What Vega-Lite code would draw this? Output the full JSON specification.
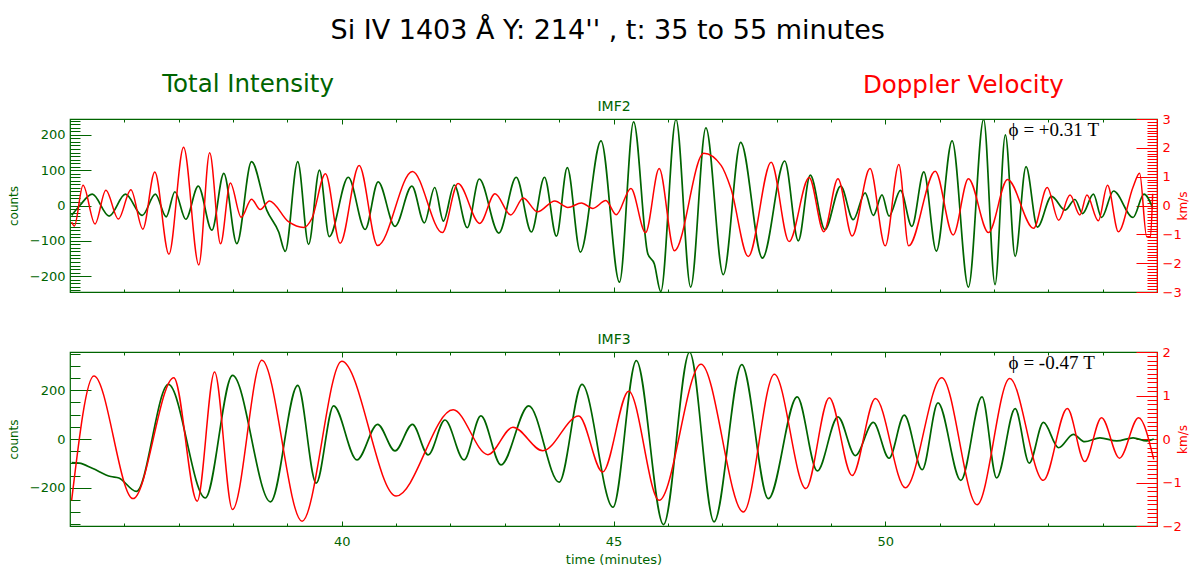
{
  "$schema": "https://vega.github.io/schema/vega-lite/v6.json",
  "background": "white",
  "padding": {"left": 6, "right": 4, "top": 17, "bottom": 0},
  "datasets": {
    "imf2_int": [
      {"t":35.03,"v":-28},{"t":35.18,"v":0},{"t":35.41,"v":32},{"t":35.72,"v":-30},{"t":36.02,"v":32},{"t":36.33,"v":-28},{"t":36.57,"v":32},{"t":36.77,"v":-32},{"t":36.93,"v":39},{"t":37.13,"v":-39},{"t":37.36,"v":55},{"t":37.61,"v":-70},{"t":37.83,"v":91},{"t":38.07,"v":-108},{"t":38.34,"v":124},{"t":38.62,"v":-13},{"t":38.84,"v":-75},{"t":38.96,"v":-130},{"t":39.19,"v":124},{"t":39.39,"v":-110},{"t":39.59,"v":100},{"t":39.77,"v":-88},{"t":40.12,"v":80},{"t":40.43,"v":-68},{"t":40.67,"v":67},{"t":40.98,"v":-59},{"t":41.29,"v":55},{"t":41.52,"v":-49},{"t":41.71,"v":51},{"t":41.87,"v":-44},{"t":42.07,"v":58},{"t":42.31,"v":-63},{"t":42.53,"v":75},{"t":42.89,"v":-78},{"t":43.21,"v":80},{"t":43.49,"v":-75},{"t":43.73,"v":80},{"t":43.95,"v":-87},{"t":44.15,"v":107},{"t":44.39,"v":-132},{"t":44.77,"v":183},{"t":45.11,"v":-217},{"t":45.37,"v":237},{"t":45.63,"v":-136},{"t":45.75,"v":-165},{"t":45.87,"v":-244},{"t":46.15,"v":244},{"t":46.42,"v":-231},{"t":46.70,"v":220},{"t":47.02,"v":-196},{"t":47.34,"v":179},{"t":47.74,"v":-149},{"t":48.15,"v":126},{"t":48.40,"v":-100},{"t":48.62,"v":86},{"t":48.89,"v":-68},{"t":49.18,"v":55},{"t":49.41,"v":-40},{"t":49.63,"v":36},{"t":49.78,"v":-28},{"t":49.94,"v":30},{"t":50.07,"v":-30},{"t":50.28,"v":43},{"t":50.49,"v":-59},{"t":50.71,"v":95},{"t":50.94,"v":-129},{"t":51.23,"v":183},{"t":51.53,"v":-231},{"t":51.81,"v":244},{"t":52.02,"v":-224},{"t":52.21,"v":200},{"t":52.39,"v":-144},{"t":52.59,"v":110},{"t":52.80,"v":-61},{"t":53.06,"v":26},{"t":53.31,"v":-13},{"t":53.49,"v":17},{"t":53.63,"v":-23},{"t":53.83,"v":32},{"t":53.98,"v":-34},{"t":54.20,"v":41},{"t":54.56,"v":-34},{"t":54.76,"v":32},{"t":54.92,"v":-6}
    ],
    "imf2_vel": [
      {"t":35.03,"v":-0.57},{"t":35.08,"v":-0.71},{"t":35.24,"v":0.70},{"t":35.46,"v":-0.64},{"t":35.66,"v":0.53},{"t":35.89,"v":-0.47},{"t":36.12,"v":0.55},{"t":36.34,"v":-0.82},{"t":36.56,"v":1.16},{"t":36.82,"v":-1.69},{"t":37.09,"v":2.02},{"t":37.37,"v":-2.06},{"t":37.57,"v":1.83},{"t":37.77,"v":-1.33},{"t":37.95,"v":0.78},{"t":38.15,"v":-0.41},{"t":38.34,"v":0.22},{"t":38.50,"v":-0.14},{"t":38.67,"v":0.16},{"t":39.02,"v":-0.56},{"t":39.30,"v":-0.76},{"t":39.45,"v":-0.45},{"t":39.70,"v":1.10},{"t":39.97,"v":-1.31},{"t":40.32,"v":1.39},{"t":40.66,"v":-1.39},{"t":41.30,"v":1.18},{"t":41.85,"v":-0.94},{"t":42.14,"v":0.76},{"t":42.54,"v":-0.62},{"t":42.82,"v":0.41},{"t":43.11,"v":-0.33},{"t":43.34,"v":0.26},{"t":43.60,"v":-0.22},{"t":43.92,"v":0.16},{"t":44.16,"v":-0.07},{"t":44.41,"v":0.09},{"t":44.62,"v":-0.10},{"t":44.86,"v":0.17},{"t":45.05,"v":-0.32},{"t":45.32,"v":0.59},{"t":45.59,"v":-0.94},{"t":45.84,"v":1.28},{"t":46.12,"v":-1.57},{"t":46.66,"v":1.81},{"t":46.98,"v":1.39},{"t":47.16,"v":0.59},{"t":47.48,"v":-1.77},{"t":47.90,"v":1.50},{"t":48.23,"v":-1.25},{"t":48.60,"v":0.97},{"t":48.87,"v":-0.91},{"t":49.13,"v":0.93},{"t":49.39,"v":-1.06},{"t":49.72,"v":1.28},{"t":50.00,"v":-1.40},{"t":50.25,"v":1.42},{"t":50.43,"v":-1.40},{"t":50.92,"v":1.19},{"t":51.25,"v":-1.02},{"t":51.53,"v":0.93},{"t":51.90,"v":-0.94},{"t":52.25,"v":0.90},{"t":52.73,"v":-0.79},{"t":52.98,"v":0.62},{"t":53.19,"v":-0.51},{"t":53.40,"v":0.36},{"t":53.58,"v":-0.33},{"t":53.71,"v":0.36},{"t":53.92,"v":-0.53},{"t":54.09,"v":0.70},{"t":54.29,"v":-0.91},{"t":54.56,"v":0.64},{"t":54.68,"v":1.12},{"t":54.81,"v":-1.08},{"t":54.88,"v":-1.08},{"t":54.92,"v":0.41}
    ],
    "imf3_int": [
      {"t":35.03,"v":-97},{"t":35.17,"v":-99},{"t":35.41,"v":-120},{"t":35.75,"v":-154},{"t":35.90,"v":-160},{"t":36.22,"v":-215},{"t":36.81,"v":224},{"t":37.49,"v":-242},{"t":37.99,"v":261},{"t":38.69,"v":-258},{"t":39.19,"v":220},{"t":39.53,"v":-181},{"t":39.85,"v":136},{"t":40.28,"v":-86},{"t":40.66,"v":60},{"t":40.98,"v":-49},{"t":41.30,"v":60},{"t":41.59,"v":-65},{"t":41.90,"v":78},{"t":42.25,"v":-86},{"t":42.56,"v":95},{"t":42.93,"v":-106},{"t":43.44,"v":136},{"t":44.00,"v":-177},{"t":44.42,"v":224},{"t":44.99,"v":-280},{"t":45.42,"v":322},{"t":45.92,"v":-351},{"t":46.40,"v":356},{"t":46.85,"v":-340},{"t":47.36,"v":305},{"t":47.85,"v":-245},{"t":48.38,"v":173},{"t":48.75,"v":-131},{"t":49.13,"v":91},{"t":49.45,"v":-68},{"t":49.78,"v":68},{"t":50.07,"v":-79},{"t":50.35,"v":98},{"t":50.68,"v":-126},{"t":50.97,"v":148},{"t":51.39,"v":-170},{"t":51.78,"v":173},{"t":52.05,"v":-160},{"t":52.39,"v":125},{"t":52.65,"v":-99},{"t":52.91,"v":68},{"t":53.19,"v":-36},{"t":53.46,"v":19},{"t":53.67,"v":-11},{"t":53.95,"v":5},{"t":54.26,"v":-8},{"t":54.56,"v":5},{"t":54.81,"v":-8},{"t":54.94,"v":0}
    ],
    "imf3_vel": [
      {"t":35.03,"v":-1.41},{"t":35.44,"v":1.45},{"t":36.16,"v":-1.37},{"t":36.91,"v":1.41},{"t":37.34,"v":-1.43},{"t":37.66,"v":1.54},{"t":37.99,"v":-1.62},{"t":38.53,"v":1.81},{"t":39.27,"v":-1.89},{"t":40.00,"v":1.79},{"t":41.00,"v":-1.31},{"t":42.05,"v":0.67},{"t":42.69,"v":-0.36},{"t":43.15,"v":0.27},{"t":43.70,"v":-0.27},{"t":44.36,"v":0.53},{"t":44.80,"v":-0.76},{"t":45.28,"v":1.10},{"t":45.84,"v":-1.41},{"t":46.61,"v":1.72},{"t":47.39,"v":-1.68},{"t":47.96,"v":1.49},{"t":48.54,"v":-1.14},{"t":48.97,"v":0.95},{"t":49.39,"v":-0.84},{"t":49.82,"v":0.93},{"t":50.37,"v":-1.12},{"t":51.04,"v":1.41},{"t":51.69,"v":-1.51},{"t":52.29,"v":1.39},{"t":52.91,"v":-0.95},{"t":53.35,"v":0.70},{"t":53.67,"v":-0.52},{"t":53.98,"v":0.49},{"t":54.31,"v":-0.44},{"t":54.66,"v":0.49},{"t":54.94,"v":-0.47}
    ]
  },
  "config": {
    "view": {"stroke": "#006400", "strokeWidth": 1.2},
    "font": "DejaVu Sans",
    "title": {"fontWeight": "normal", "font": "DejaVu Sans"},
    "axis": {"grid": false, "domain": false, "labelFont": "DejaVu Sans", "titleFont": "DejaVu Sans", "titleFontWeight": "normal", "labelOverlap": false, "labelFlush": false, "labelBound": false, "tickWidth": 1}
  },
  "title": {"text": "Si IV 1403 Å Y: 214'' , t: 35 to 55 minutes", "fontSize": 27, "color": "black", "anchor": "middle", "offset": 26, "dx": 10},
  "spacing": 31,
  "vconcat": [
    {
      "title": {"text": "Doppler Velocity", "anchor": "end", "color": "#ff0000", "fontSize": 24.5, "dx": -125, "offset": -27},
      "vconcat": [
        {
          "title": {"text": "Total Intensity", "anchor": "start", "color": "#006400", "fontSize": 24.5, "dx": 155, "offset": 2},
          "width": 1087,
          "height": 173,
          "layer": [
            {
              "data": {"name": "imf2_int"},
              "mark": {"type": "line", "color": "#006400", "strokeWidth": 1.7, "interpolate": "monotone", "clip": true},
              "encoding": {
                "x": {"field": "t", "type": "quantitative", "scale": {"domain": [35, 55], "nice": false, "zero": false},
                  "axis": {"orient": "bottom", "values": [36,37,38,39,40,41,42,43,44,45,46,47,48,49,50,51,52,53,54], "labels": false, "tickColor": "#006400", "title": null,
                    "tickSize": {"condition": {"test": "datum.value % 5 === 0", "value": -5}, "value": -3}}},
                "y": {"field": "v", "type": "quantitative", "scale": {"domain": [-245, 245], "nice": false, "zero": false},
                  "axis": {"orient": "left", "title": "counts", "titleColor": "#006400", "titleFontSize": 12, "titlePadding": 9,
                    "values": [-240,-230,-220,-210,-200,-190,-180,-170,-160,-150,-140,-130,-120,-110,-100,-90,-80,-70,-60,-50,-40,-30,-20,-10,0,10,20,30,40,50,60,70,80,90,100,110,120,130,140,150,160,170,180,190,200,210,220,230,240],
                    "labelExpr": "abs(datum.value / 100 - round(datum.value / 100)) < 0.01 ? format(datum.value, 'd') : ''",
                    "labelColor": "#006400", "labelFontSize": 13, "labelPadding": 26,
                    "tickColor": "#006400",
                    "tickSize": {"condition": {"test": "abs(datum.value / 100 - round(datum.value / 100)) < 0.01", "value": -21}, "value": -10}}}
              }
            },
            {
              "data": {"name": "imf2_vel"},
              "mark": {"type": "line", "color": "#ff0000", "strokeWidth": 1.5, "interpolate": "monotone", "clip": true},
              "encoding": {
                "x": {"field": "t", "type": "quantitative", "scale": {"domain": [35, 55], "nice": false, "zero": false},
                  "axis": {"orient": "top", "values": [36,37,38,39,40,41,42,43,44,45,46,47,48,49,50,51,52,53,54], "labels": false, "tickColor": "#006400", "title": "IMF2", "titleColor": "#006400", "titleFontSize": 14, "titlePadding": 5,
                    "tickSize": {"condition": {"test": "datum.value % 5 === 0", "value": -5}, "value": -3}}},
                "y": {"field": "v", "type": "quantitative", "scale": {"domain": [-3, 3], "nice": false, "zero": false},
                  "axis": {"orient": "right", "title": "km/s", "titleColor": "#ff0000", "titleFontSize": 12, "titleAngle": 270, "titlePadding": 8,
                    "values": [-3,-2.9,-2.8,-2.7,-2.6,-2.5,-2.4,-2.3,-2.2,-2.1,-2,-1.9,-1.8,-1.7,-1.6,-1.5,-1.4,-1.3,-1.2,-1.1,-1,-0.9,-0.8,-0.7,-0.6,-0.5,-0.4,-0.3,-0.2,-0.1,0,0.1,0.2,0.3,0.4,0.5,0.6,0.7,0.8,0.9,1,1.1,1.2,1.3,1.4,1.5,1.6,1.7,1.8,1.9,2,2.1,2.2,2.3,2.4,2.5,2.6,2.7,2.8,2.9,3],
                    "labelExpr": "abs(datum.value - round(datum.value)) < 0.01 ? format(round(datum.value), 'd') : ''",
                    "labelColor": "#ff0000", "labelFontSize": 13, "labelPadding": 26,
                    "tickColor": "#ff0000",
                    "domain": true, "domainColor": "#ff0000",
                    "tickSize": {"condition": {"test": "abs(datum.value - round(datum.value)) < 0.01", "value": -21}, "value": -10}}}
              }
            },
            {
              "data": {"values": [{}]},
              "mark": {"type": "text", "font": "Liberation Serif", "fontSize": 19, "align": "left", "baseline": "middle", "color": "black"},
              "encoding": {
                "text": {"value": "ϕ = +0.31 T"},
                "x": {"datum": 52.27, "type": "quantitative", "axis": null},
                "y": {"datum": 215, "type": "quantitative", "scale": {"domain": [-245, 245], "nice": false, "zero": false}, "axis": null}
              }
            }
          ],
          "resolve": {"scale": {"y": "independent"}, "axis": {"x": "independent", "y": "independent"}}
        }
      ]
    },
    {
      "width": 1087,
      "height": 174,
      "layer": [
        {
          "data": {"name": "imf3_int"},
          "mark": {"type": "line", "color": "#006400", "strokeWidth": 1.7, "interpolate": "monotone", "clip": true},
          "encoding": {
            "x": {"field": "t", "type": "quantitative", "scale": {"domain": [35, 55], "nice": false, "zero": false},
              "axis": {"orient": "bottom", "values": [36,37,38,39,40,41,42,43,44,45,46,47,48,49,50,51,52,53,54],
                "labelExpr": "datum.value % 5 === 0 ? format(datum.value, 'd') : ''",
                "labelColor": "#006400", "labelFontSize": 13, "labelPadding": 14, "tickColor": "#006400",
                "tickSize": {"condition": {"test": "datum.value % 5 === 0", "value": -5}, "value": -3},
                "title": "time (minutes)", "titleColor": "#006400", "titleFontSize": 13, "titlePadding": 3}},
            "y": {"field": "v", "type": "quantitative", "scale": {"domain": [-357, 357], "nice": false, "zero": false},
              "axis": {"orient": "left", "title": "counts", "titleColor": "#006400", "titleFontSize": 12, "titlePadding": 9,
                "values": [-350,-300,-250,-200,-150,-100,-50,0,50,100,150,200,250,300,350],
                "labelExpr": "abs(datum.value / 200 - round(datum.value / 200)) < 0.01 ? format(datum.value, 'd') : ''",
                "labelColor": "#006400", "labelFontSize": 13, "labelPadding": 26,
                "tickColor": "#006400",
                "tickSize": {"condition": {"test": "abs(datum.value / 200 - round(datum.value / 200)) < 0.01", "value": -21}, "value": -10}}}
          }
        },
        {
          "data": {"name": "imf3_vel"},
          "mark": {"type": "line", "color": "#ff0000", "strokeWidth": 1.5, "interpolate": "monotone", "clip": true},
          "encoding": {
            "x": {"field": "t", "type": "quantitative", "scale": {"domain": [35, 55], "nice": false, "zero": false},
              "axis": {"orient": "top", "values": [36,37,38,39,40,41,42,43,44,45,46,47,48,49,50,51,52,53,54], "labels": false, "tickColor": "#006400", "title": "IMF3", "titleColor": "#006400", "titleFontSize": 14, "titlePadding": 5,
                "tickSize": {"condition": {"test": "datum.value % 5 === 0", "value": -5}, "value": -3}}},
            "y": {"field": "v", "type": "quantitative", "scale": {"domain": [-2, 2], "nice": false, "zero": false},
              "axis": {"orient": "right", "title": "km/s", "titleColor": "#ff0000", "titleFontSize": 12, "titleAngle": 270, "titlePadding": 8,
                "values": [-2,-1.9,-1.8,-1.7,-1.6,-1.5,-1.4,-1.3,-1.2,-1.1,-1,-0.9,-0.8,-0.7,-0.6,-0.5,-0.4,-0.3,-0.2,-0.1,0,0.1,0.2,0.3,0.4,0.5,0.6,0.7,0.8,0.9,1,1.1,1.2,1.3,1.4,1.5,1.6,1.7,1.8,1.9,2],
                "labelExpr": "abs(datum.value - round(datum.value)) < 0.01 ? format(round(datum.value), 'd') : ''",
                "labelColor": "#ff0000", "labelFontSize": 13, "labelPadding": 26,
                "tickColor": "#ff0000",
                "domain": true, "domainColor": "#ff0000",
                "tickSize": {"condition": {"test": "abs(datum.value - round(datum.value)) < 0.01", "value": -21}, "value": -10}}}
          }
        },
        {
          "data": {"values": [{}]},
          "mark": {"type": "text", "font": "Liberation Serif", "fontSize": 19, "align": "left", "baseline": "middle", "color": "black"},
          "encoding": {
            "text": {"value": "ϕ = -0.47 T"},
            "x": {"datum": 52.27, "type": "quantitative", "axis": null},
            "y": {"datum": 310, "type": "quantitative", "scale": {"domain": [-357, 357], "nice": false, "zero": false}, "axis": null}
          }
        }
      ],
      "resolve": {"scale": {"y": "independent"}, "axis": {"x": "independent", "y": "independent"}}
    }
  ]
}
